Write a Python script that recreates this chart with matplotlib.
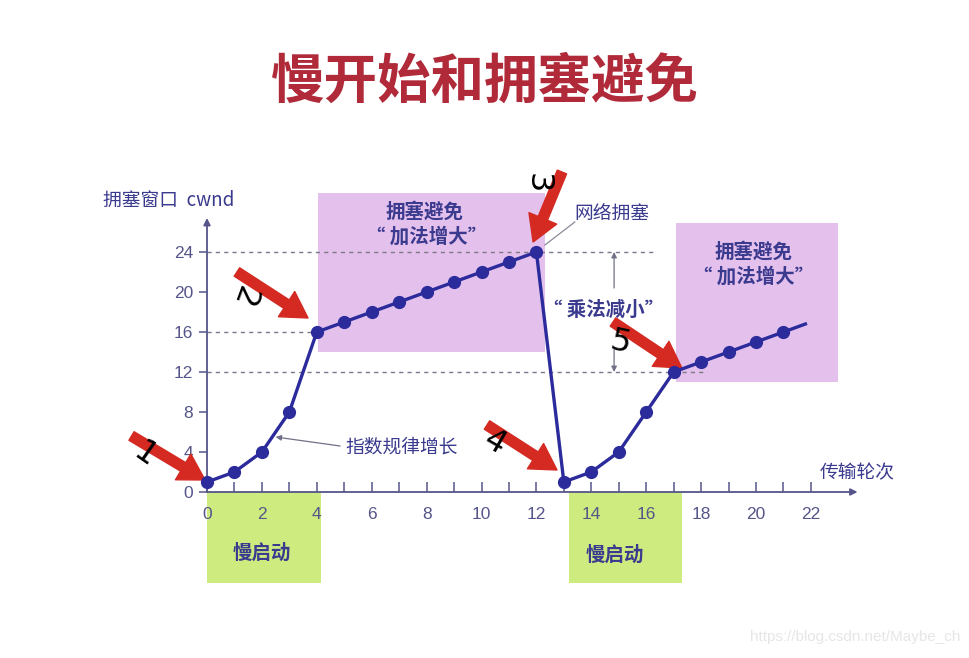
import matplotlib
matplotlib.use("Agg")
import matplotlib.pyplot as plt
from matplotlib.patches import Rectangle

plt.rcParams['font.family'] = ['Noto Sans CJK SC', 'DejaVu Sans']

# data
rounds = [0, 1, 2, 3, 4, 5, 6, 7, 8, 9, 10, 11, 12, 13, 14, 15, 16, 17, 18, 19, 20, 21]
cwnd = [1, 2, 4, 8, 16, 17, 18, 19, 20, 21, 22, 23, 24, 1, 2, 4, 8, 12, 13, 14, 15, 16]
tail_x, tail_y = 21.8, 16.8          # line runs on past the last point
xticks = list(range(0, 23, 2))
yticks = [0, 4, 8, 12, 16, 20, 24]
ssthresh = [24, 16, 12]
ca_boxes = [(4.05, 12.3, 14.0, 29.9), (17.1, 23.0, 11.0, 26.9)]     # x0, x1, y0, y1
ss_boxes = [(0.0, 4.15, -9.1, 0.0), (13.2, 17.3, -9.1, 0.0)]

BLUE = '#2b2b9c'
NAVY = '#3a3a8e'
TICK = '#55558a'
RED = '#d42a22'
PINK = '#e4c0ec'
GREEN = '#cdeb7f'

fig = plt.figure(figsize=(9.69, 6.58), dpi=100)
ax = fig.add_axes([0, 0, 1, 1])
# 27.45 px per round, 10 px per window unit, origin at (207, 492) px
ax.set_xlim(-207 / 27.45, (969 - 207) / 27.45)
ax.set_ylim((492 - 658) / 10, 492 / 10)

for s in ['top', 'right', 'left', 'bottom']:
    ax.spines[s].set_visible(False)
ax.spines['left'].set_position(('data', 0))
ax.spines['bottom'].set_position(('data', 0))

# axes with arrowheads
ax.annotate('', xy=(23.7, 0), xytext=(0, 0),
            arrowprops=dict(arrowstyle='-|>', color=TICK, lw=1.3, mutation_scale=10, shrinkA=0, shrinkB=0))
ax.annotate('', xy=(0, 27.4), xytext=(0, 0),
            arrowprops=dict(arrowstyle='-|>', color=TICK, lw=1.3, mutation_scale=10, shrinkA=0, shrinkB=0))

ax.set_xticks(xticks)
ax.set_xticks(rounds + [22], minor=True)
ax.set_yticks(yticks)
ax.tick_params(axis='x', which='both', direction='in', length=7, width=1.1, color=TICK,
               labelsize=12.5, labelcolor=TICK, pad=11)
ax.tick_params(axis='y', direction='out', length=6, width=1.1, color=TICK,
               labelsize=12.5, labelcolor=TICK, pad=4)
for lab in ax.get_xticklabels() + ax.get_yticklabels():
    lab.set_family(['Liberation Sans', 'DejaVu Sans'])

# shaded phases
for x0, x1, y0, y1 in ca_boxes:
    ax.add_patch(Rectangle((x0, y0), x1 - x0, y1 - y0, facecolor=PINK, edgecolor='none', zorder=0))
for x0, x1, y0, y1 in ss_boxes:
    ax.add_patch(Rectangle((x0, y0), x1 - x0, y1 - y0, facecolor=GREEN, edgecolor='none',
                           zorder=0, clip_on=False))

# dashed guide lines
for y, xe in zip(ssthresh, [16.4, 4.0, 18.1]):
    ax.plot([0, xe], [y, y], ls=(0, (3, 3)), color='#7a7a8a', lw=1.0, zorder=1)

# main curve
ax.plot(rounds + [tail_x], cwnd + [tail_y], color=BLUE, lw=2.4, zorder=3)
ax.plot(rounds, cwnd, 'o', color=BLUE, ms=8.5, zorder=4)

# text annotations
bold = dict(color=NAVY, fontsize=14, fontweight='bold', ha='center', va='center')
ax.text(7.94, 28.0, '拥塞避免', **bold)
ax.text(8.0, 25.5, '“ 加法增大”', **bold)
ax.text(19.9, 24.0, '拥塞避免', **bold)
ax.text(19.9, 21.5, '“ 加法增大”', **bold)
ax.text(14.43, 18.2, '“ 乘法减小”', **bold)
ax.text(2.0, -6.1, '慢启动', **bold)
ax.text(14.86, -6.3, '慢启动', **bold)

ax.text(13.4, 27.9, '网络拥塞', color=NAVY, fontsize=13.5, ha='left', va='center')
ax.plot([12.31, 13.4], [24.7, 27.0], color='#8a8a9a', lw=0.9, zorder=2)

ax.text(5.03, 4.5, '指数规律增长', color=NAVY, fontsize=13.5, ha='left', va='center')
ax.annotate('', xy=(2.5, 5.5), xytext=(4.85, 4.6),
            arrowprops=dict(arrowstyle='-|>', color='#707088', lw=0.9, mutation_scale=8,
                            shrinkA=0, shrinkB=0))

# multiplicative decrease span
ax.annotate('', xy=(14.83, 24.0), xytext=(14.83, 20.4),
            arrowprops=dict(arrowstyle='-|>', color='#707088', lw=0.9, mutation_scale=8, shrinkA=0, shrinkB=0))
ax.annotate('', xy=(14.83, 12.0), xytext=(14.83, 14.2),
            arrowprops=dict(arrowstyle='-|>', color='#707088', lw=0.9, mutation_scale=8, shrinkA=0, shrinkB=0))

ax.text(-3.79, 29.2, '拥塞窗口  cwnd', color=NAVY, fontsize=13.5, ha='left', va='center')
ax.text(22.33, 1.9, '传输轮次', color=NAVY, fontsize=13.5, ha='left', va='center')

# hand drawn red arrows and numbers
red_arrows = [((-2.75, 5.6), (-0.07, 1.2)),
              ((1.09, 22.0), (3.68, 17.4)),
              ((12.93, 32.0), (11.88, 25.0)),
              ((10.2, 6.7), (12.75, 2.2)),
              ((14.79, 17.0), (17.3, 12.4))]
for tail, tip in red_arrows:
    ax.annotate('', xy=tip, xytext=tail,
                arrowprops=dict(arrowstyle='simple,head_length=1.15,head_width=1.35,tail_width=0.45',
                                mutation_scale=16, color=RED, shrinkA=0, shrinkB=0),
                zorder=2.4, annotation_clip=False)

numbers = [('1', -2.26, 3.7, -35), ('2', 1.31, 19.5, -110), ('3', 12.02, 30.9, -90),
           ('4', 10.49, 4.9, -30), ('5', 15.05, 14.9, -12)]
for s, x, y, rot in numbers:
    ax.text(x, y, s, fontsize=23, color='black', rotation=rot, ha='center', va='center',
            family=['DejaVu Sans'], zorder=6)

# title and watermark
fig.text(485 / 969, 1 - 82 / 658, '慢开始和拥塞避免', color='#b02a3a', fontsize=38.5,
         fontweight='black', ha='center', va='center')
fig.text(960 / 969, 1 - 637 / 658, 'https://blog.csdn.net/Maybe_ch', color='#e6e6e6',
         fontsize=11, ha='right', va='center', family=['Liberation Sans', 'DejaVu Sans'])

fig.savefig('out.png', dpi=100)
